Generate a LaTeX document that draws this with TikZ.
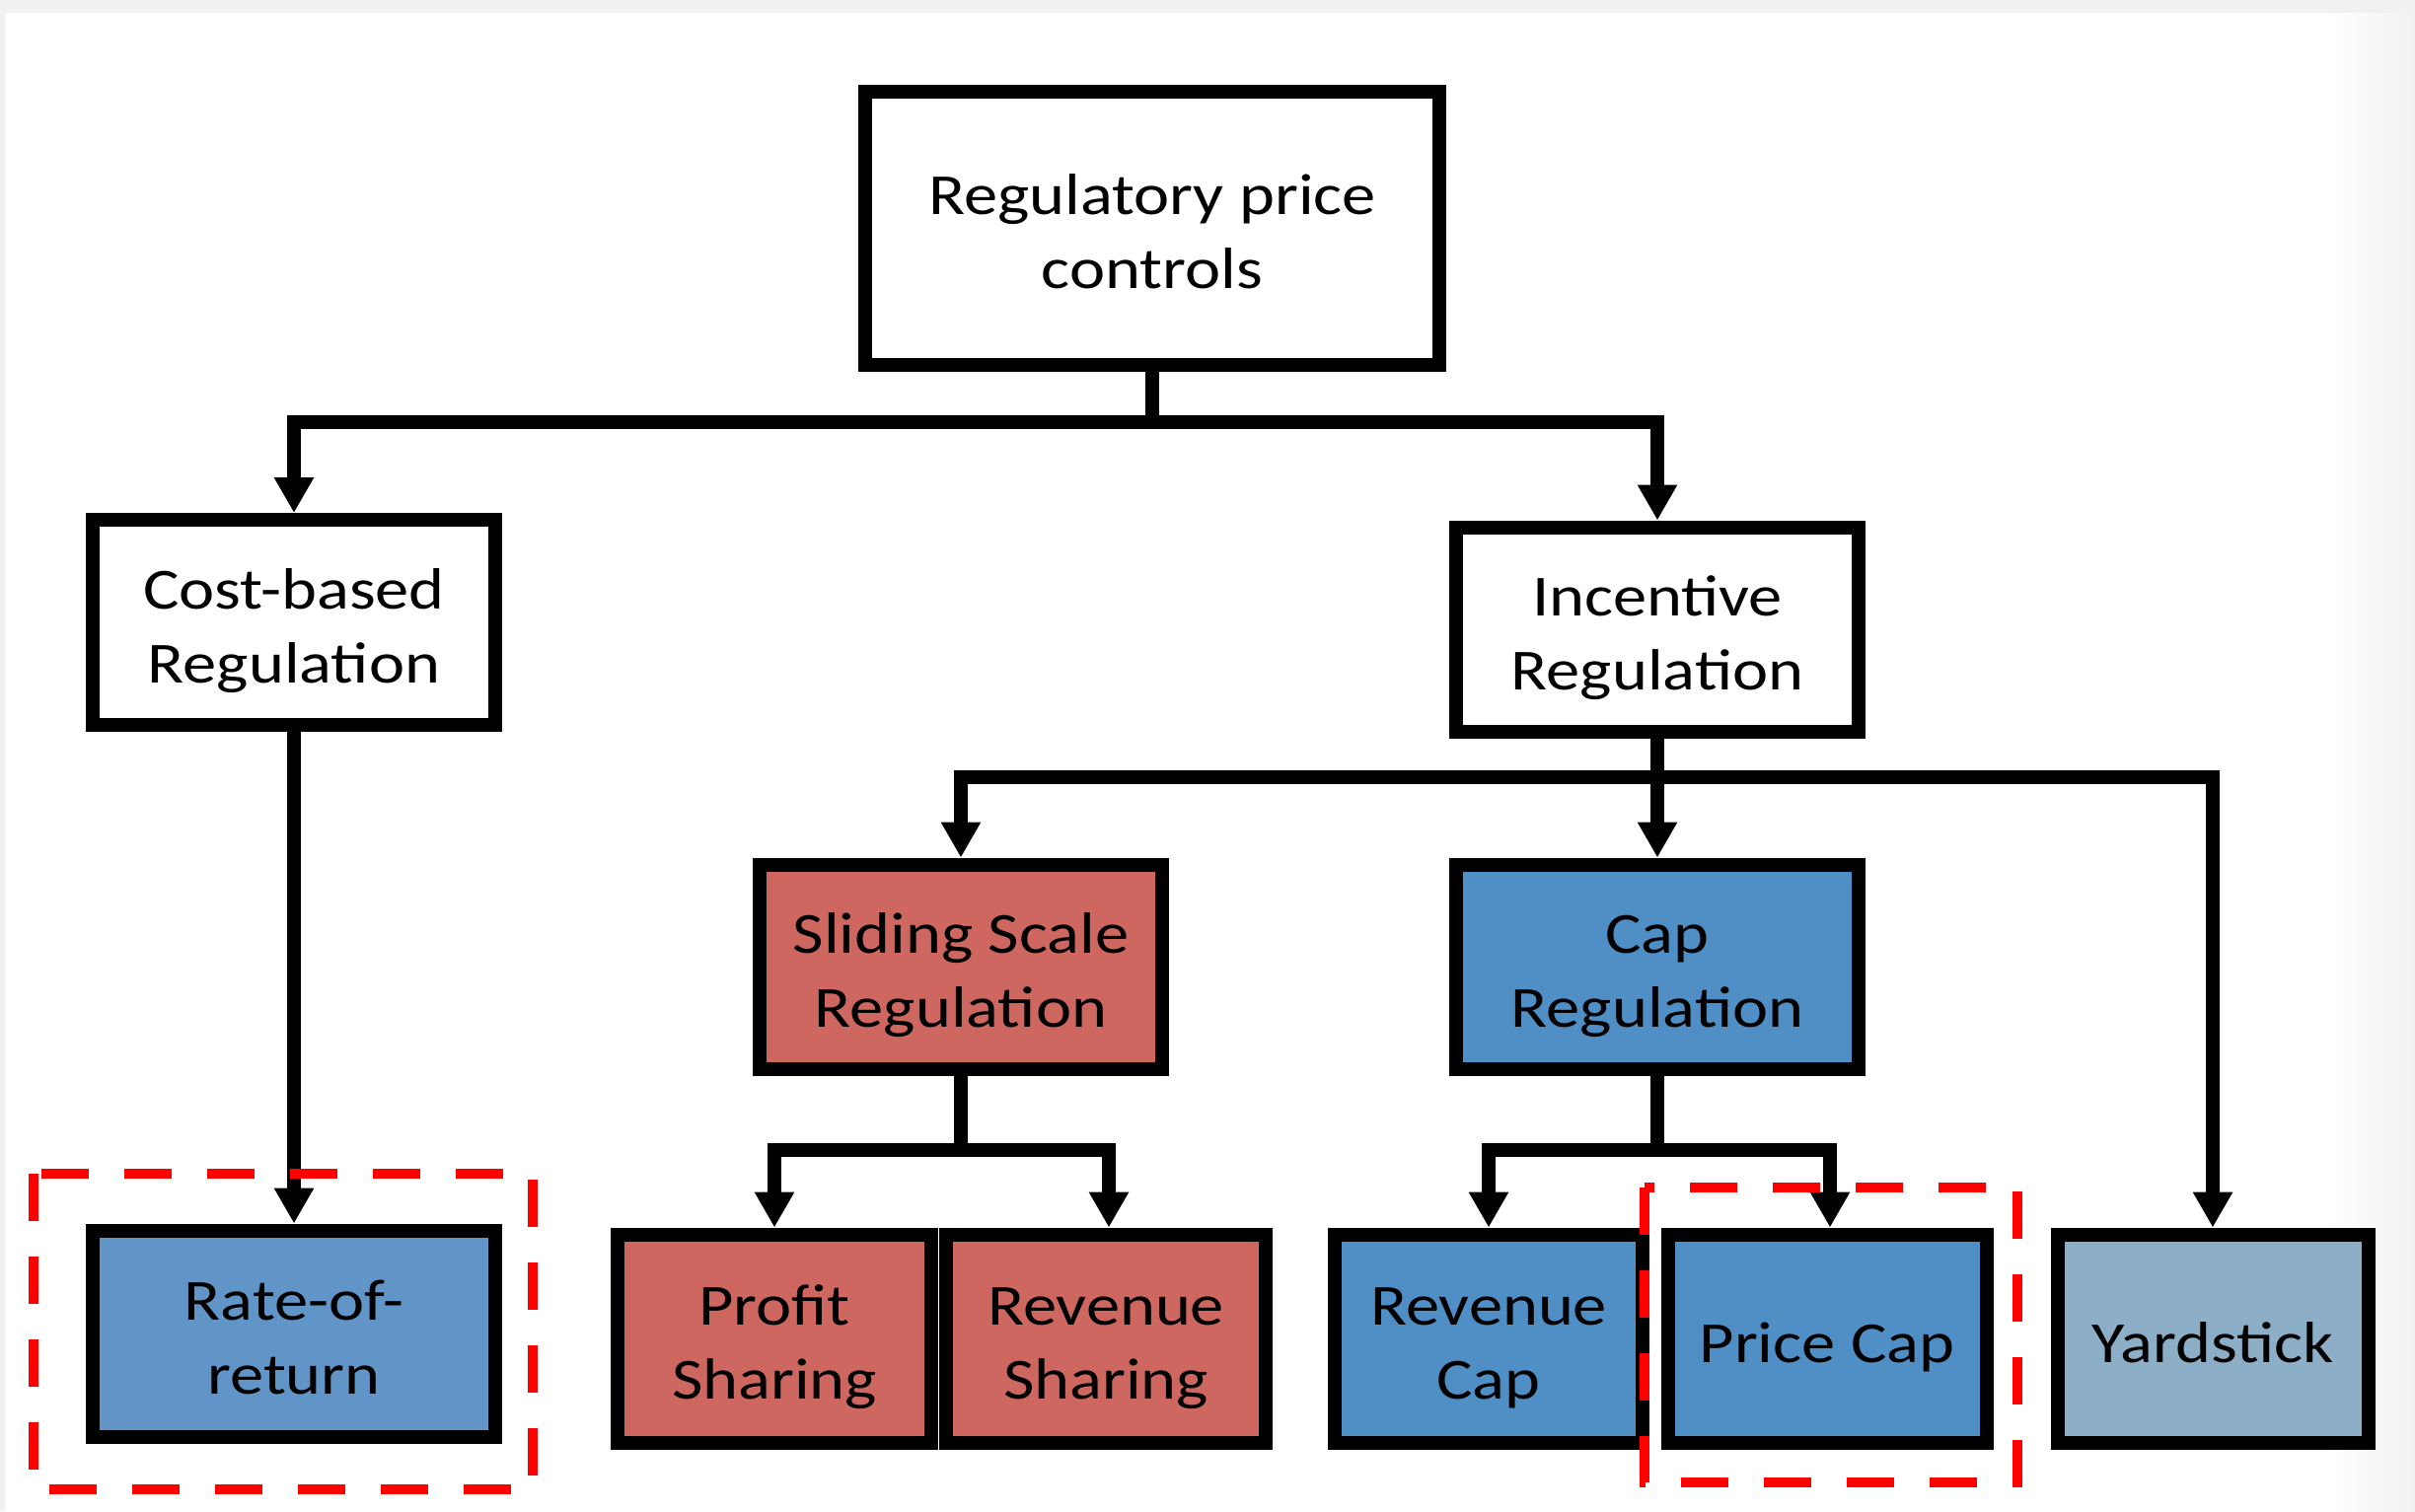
\documentclass[tikz,border=0pt]{standalone}
\usepackage{fontspec}
\setmainfont{Carlito}[FakeStretch=1.16]
\usetikzlibrary{arrows.meta}
\definecolor{pagegray}{RGB}{241,241,243}
\definecolor{capblue}{RGB}{79,143,198}
\definecolor{rorblue}{RGB}{97,149,200}
\definecolor{slidered}{RGB}{205,103,95}
\definecolor{yardblue}{RGB}{141,174,199}
% uniform line box so every label is centred the same way
\newcommand\boxstrut{\rule[-13pt]{0pt}{74pt}}
\tikzset{
  box/.style={draw=black, line width=14pt, align=center, inner sep=0pt,
    font=\fontsize{59}{75}\selectfont},
  link/.style={draw=black, line width=14pt, line join=miter},
  arr/.style={link, -{Triangle[length=36pt,width=38pt]}},
  highlight/.style={draw=red, line width=10pt, dash pattern=on 48pt off 36pt},
}
\begin{document}
\begin{tikzpicture}[x=1pt,y=-1pt]
  % page
  \fill[pagegray] (0,0) rectangle (2448,1532);
  \fill[white] (5,13) rectangle (2448,1532);
  \shade[left color=white, right color=pagegray] (2360,13) rectangle (2448,1532);
  \useasboundingbox (0,0) rectangle (2448,1532);

  % boxes
  \node[box, fill=white, minimum width=582pt, minimum height=277pt] (top) at (1168,231) {\boxstrut Regulatory price\\\boxstrut controls};
  \node[box, fill=white, minimum width=408pt, minimum height=208pt] (cost) at (298,631) {\boxstrut Cost-based\\\boxstrut Regulation};
  \node[box, fill=white, minimum width=408pt, minimum height=207pt] (inc) at (1680,638) {\boxstrut Incentive\\\boxstrut Regulation};
  \node[box, fill=slidered, minimum width=408pt, minimum height=207pt] (slide) at (974,980) {\boxstrut Sliding Scale\\\boxstrut Regulation};
  \node[box, fill=capblue, minimum width=408pt, minimum height=207pt] (capreg) at (1680,980) {\boxstrut Cap\\\boxstrut Regulation};

  \node[box, fill=rorblue, minimum width=408pt, minimum height=209pt] (ror) at (298,1352) {\boxstrut Rate-of-\\\boxstrut return};
  \node[box, fill=slidered, minimum width=318pt, minimum height=211pt] (profit) at (785,1357) {\boxstrut Profit\\\boxstrut Sharing};
  \node[box, fill=slidered, minimum width=324pt, minimum height=211pt] (revshare) at (1121,1357) {\boxstrut Revenue\\\boxstrut Sharing};
  \node[box, fill=capblue, minimum width=312pt, minimum height=211pt] (revcap) at (1509,1357) {\boxstrut Revenue\\\boxstrut Cap};
  \node[box, fill=capblue, minimum width=323pt, minimum height=211pt] (pricecap) at (1852,1357) {\boxstrut Price Cap};
  \node[box, fill=yardblue, minimum width=315pt, minimum height=211pt] (yard) at (2243,1357) {\boxstrut Yardstick};

  % junctions
  \coordinate (jtop) at (1168,428);
  \coordinate (jinc) at (1680,788);
  \coordinate (jslide) at (974,1166);
  \coordinate (jcap) at (1680,1166);

  % connectors
  \draw[link] (top.south) -- (jtop);
  \draw[arr] (jtop) -| (cost.north);
  \draw[arr] (jtop) -| (inc.north);

  \draw[link] (inc.south) -- (jinc);
  \draw[arr] (jinc) -| (slide.north);
  \draw[arr] (jinc) -- (capreg.north);
  \draw[arr] (jinc) -| (yard.north);

  \draw[arr] (cost.south) -- (ror.north);

  \draw[link] (slide.south) -- (jslide);
  \draw[arr] (jslide) -| (profit.north);
  \draw[arr] (jslide) -| ([xshift=3pt]revshare.north);

  \draw[link] (capreg.south) -- (jcap);
  \draw[arr] (jcap) -| (revcap.north);
  \draw[arr] (jcap) -| ([xshift=3pt]pricecap.north);

  % highlighted options
  \coordinate (h1a) at (34,1190);
  \coordinate (h1b) at (540,1510);
  \coordinate (h2a) at (1667,1204);
  \coordinate (h2b) at (2045,1503);
  \draw[highlight] (h1a) rectangle (h1b);
  \draw[highlight] (h2a) rectangle (h2b);
\end{tikzpicture}
\end{document}
